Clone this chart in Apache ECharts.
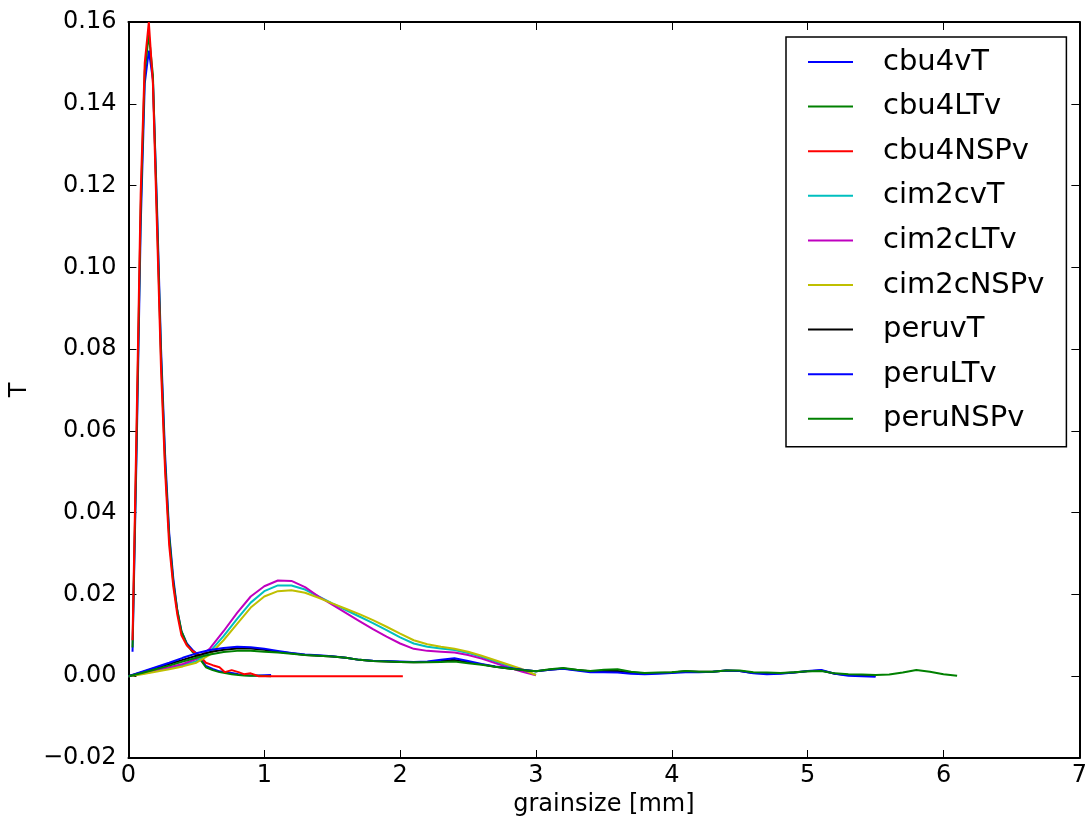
<!DOCTYPE html>
<html>
<head>
<meta charset="utf-8">
<title>grainsize T</title>
<script src="https://cdn.jsdelivr.net/npm/echarts@6/dist/echarts.min.js"></script>
<style>
  html, body { margin: 0; padding: 0; background: #fff; }
  #chart { width: 1090px; height: 823px; }
</style>
</head>
<body>
<div id="chart"></div>
<script>
// cbu4 samples (x in mm)
var cbu4X = [0.03, 0.06, 0.09, 0.12, 0.15, 0.18, 0.21, 0.24, 0.27, 0.30, 0.33, 0.36, 0.39, 0.43, 0.47, 0.52, 0.57, 0.62, 0.67, 0.71, 0.76, 0.81, 0.85, 0.90, 0.96, 1.05, 1.5, 2.02]
var cbu4vT = [0.006, 0.055, 0.110, 0.145, 0.153, 0.146, 0.115, 0.080, 0.054, 0.035, 0.024, 0.016, 0.011, 0.008, 0.0065, 0.005, 0.0025, 0.0018, 0.0012, 0.001, 0.0008, 0.0005, 0.0003, 0.0002, 0.0002, 0.0003]
var cbu4LTv = [0.007, 0.058, 0.114, 0.148, 0.157, 0.147, 0.113, 0.078, 0.052, 0.034, 0.023, 0.016, 0.011, 0.0078, 0.006, 0.0045, 0.0022, 0.0015, 0.001, 0.0008, 0.0005, 0.0003, 0.0002, 0.0001, 0.0001, 0.0]
var cbu4NSPv = [0.0088, 0.062, 0.118, 0.150, 0.160, 0.145, 0.110, 0.075, 0.050, 0.032, 0.022, 0.015, 0.010, 0.0075, 0.0062, 0.0052, 0.0033, 0.0027, 0.0022, 0.001, 0.0015, 0.001, 0.0005, 0.0007, 0.0, 0.0, 0.0, 0.0]

// cim2c samples
var cim2cX = [0, 0.1, 0.2, 0.3, 0.4, 0.5, 0.6, 0.7, 0.8, 0.9, 1.0, 1.1, 1.2, 1.3, 1.4, 1.5, 1.6, 1.7, 1.8, 1.9, 2.0, 2.1, 2.2, 2.3, 2.4, 2.5, 2.6, 2.7, 2.8, 2.9, 3.0]
var cim2cvT = [0, 0.0006, 0.0013, 0.002, 0.0027, 0.0037, 0.006, 0.0098, 0.014, 0.018, 0.0208, 0.0222, 0.0222, 0.0212, 0.0195, 0.0178, 0.0162, 0.0146, 0.013, 0.0113, 0.0095, 0.008, 0.0072, 0.0068, 0.0064, 0.0057, 0.0047, 0.0036, 0.0025, 0.0014, 0.0004]
var cim2cLTv = [0, 0.0007, 0.0015, 0.0022, 0.003, 0.0042, 0.0068, 0.011, 0.0155, 0.0195, 0.022, 0.0234, 0.0233, 0.0218, 0.0195, 0.0175, 0.0155, 0.0135, 0.0115, 0.0097, 0.008, 0.0067, 0.0062, 0.006, 0.0058, 0.0052, 0.0043, 0.0032, 0.0021, 0.0011, 0.0002]
var cim2cNSPv = [0, 0.0005, 0.0011, 0.0017, 0.0024, 0.0033, 0.0053, 0.0088, 0.0128, 0.0168, 0.0195, 0.0208, 0.021, 0.0204, 0.0192, 0.0178, 0.0165, 0.0152, 0.0137, 0.0121, 0.0104, 0.0088, 0.0078, 0.0072, 0.0067, 0.006, 0.005, 0.0039, 0.0028, 0.0017, 0.0003]

// peru samples
var peruX = [0, 0.1, 0.2, 0.3, 0.4, 0.5, 0.6, 0.7, 0.8, 0.9, 1.0, 1.1, 1.2, 1.3, 1.4, 1.5, 1.6, 1.7, 1.8, 1.9, 2.0, 2.1, 2.2, 2.3, 2.4, 2.5, 2.6, 2.7, 2.8, 2.9, 3.0, 3.1, 3.2, 3.3, 3.4, 3.5, 3.6, 3.7, 3.8, 3.9, 4.0, 4.1, 4.2, 4.3, 4.4, 4.5, 4.6, 4.7, 4.8, 4.9, 5.0, 5.1, 5.2, 5.3, 5.4, 5.5, 5.6, 5.7, 5.8, 5.9, 6.0, 6.1]
var peruvT = [0, 0.001, 0.002, 0.003, 0.004, 0.005, 0.0059, 0.0065, 0.0068, 0.0068, 0.0065, 0.006, 0.0056, 0.0052, 0.005, 0.0048, 0.0045, 0.004, 0.0037, 0.0036, 0.0035, 0.0034, 0.0035, 0.0037, 0.004, 0.0034, 0.0029, 0.0023, 0.0019, 0.0015, 0.0012, 0.0016, 0.0019, 0.0015, 0.0012, 0.0013, 0.0013, 0.0009, 0.0007, 0.0008, 0.0009, 0.0012, 0.0011, 0.0011, 0.0014, 0.0013, 0.0008, 0.0007, 0.0007, 0.0009, 0.0012, 0.0014, 0.0006, 0.0003, 0.0002, 0.0001]
var peruLTv = [0, 0.0011, 0.0022, 0.0033, 0.0045, 0.0056, 0.0064, 0.0069, 0.0072, 0.0071, 0.0067, 0.0062, 0.0057, 0.0053, 0.0051, 0.0049, 0.0045, 0.004, 0.0038, 0.0037, 0.0036, 0.0035, 0.0036, 0.004, 0.0044, 0.0037, 0.003, 0.0024, 0.002, 0.0016, 0.0012, 0.0016, 0.0018, 0.0014, 0.001, 0.001, 0.0009, 0.0006, 0.0005, 0.0006, 0.0008, 0.001, 0.001, 0.0011, 0.0014, 0.0013, 0.0007, 0.0005, 0.0006, 0.0009, 0.0013, 0.0015, 0.0006, 0.0001, 0.0, -0.0001]
var peruNSPv = [0, 0.0008, 0.0017, 0.0026, 0.0036, 0.0045, 0.0053, 0.0059, 0.0062, 0.0062, 0.006, 0.0058, 0.0055, 0.0052, 0.005, 0.0048, 0.0045, 0.004, 0.0037, 0.0036, 0.0035, 0.0034, 0.0034, 0.0035, 0.0036, 0.0032, 0.0028, 0.0023, 0.0019, 0.0015, 0.0012, 0.0017, 0.002, 0.0016, 0.0013, 0.0016, 0.0017, 0.0011, 0.0008, 0.0009, 0.001, 0.0013, 0.0011, 0.0011, 0.0014, 0.0014, 0.001, 0.0009, 0.0008, 0.001, 0.0012, 0.0013, 0.0007, 0.0005, 0.0004, 0.0003, 0.0004, 0.0009, 0.0015, 0.0011, 0.0005, 0.0001]

var names = ['cbu4vT', 'cbu4LTv', 'cbu4NSPv', 'cim2cvT', 'cim2cLTv', 'cim2cNSPv', 'peruvT', 'peruLTv', 'peruNSPv']
var colors = ['#0000ff', '#008000', '#ff0000', '#00bfbf', '#bf00bf', '#bfbf00', '#000000', '#0000ff', '#008000']

function pairs(xs, ys) {
  var out = []
  for (var i = 0; i < ys.length; i++) {
    out.push([xs[i], ys[i]])
  }
  return out
}

var seriesData = [
  pairs(cbu4X, cbu4vT), pairs(cbu4X, cbu4LTv), pairs(cbu4X, cbu4NSPv),
  pairs(cim2cX, cim2cvT), pairs(cim2cX, cim2cLTv), pairs(cim2cX, cim2cNSPv),
  pairs(peruX, peruvT), pairs(peruX, peruLTv), pairs(peruX, peruNSPv)
]

var font = 'DejaVu Sans'
var axisLine = { show: true, onZero: false, lineStyle: { color: '#000', width: 2 } }
var tick = { show: true, inside: true, length: 8, lineStyle: { color: '#000', width: 1 } }

var chart = echarts.init(document.getElementById('chart'), null, { renderer: 'canvas' })

var option = {
  animation: false,
  color: colors,
  grid: { left: 128, right: 10, top: 22, bottom: 65, containLabel: false },
  legend: {
    orient: 'vertical',
    left: 786,
    top: 37,
    padding: [10, 22, 13, 22],
    itemGap: 14.6,
    itemWidth: 45,
    itemHeight: 2,
    icon: 'rect',
    backgroundColor: '#fff',
    borderColor: '#000',
    borderWidth: 1.5,
    borderRadius: 0,
    data: names,
    textStyle: {
      fontFamily: font,
      fontSize: 29,
      color: '#000',
      lineHeight: 30,
      padding: [0, 0, 0, 25]
    }
  },
  xAxis: [
    {
      type: 'value',
      min: 0,
      max: 7,
      interval: 1,
      name: 'grainsize [mm]',
      nameLocation: 'middle',
      nameGap: 33,
      nameTextStyle: { fontFamily: font, fontSize: 24, color: '#000' },
      axisLine: axisLine,
      axisTick: tick,
      splitLine: { show: false },
      axisLabel: { fontFamily: font, fontSize: 24, color: '#000', margin: 6 }
    },
    {
      type: 'value',
      position: 'top',
      min: 0,
      max: 7,
      interval: 1,
      axisLine: axisLine,
      axisTick: tick,
      splitLine: { show: false },
      axisLabel: { show: false }
    }
  ],
  yAxis: [
    {
      type: 'value',
      min: -0.02,
      max: 0.16,
      interval: 0.02,
      name: 'T',
      nameLocation: 'middle',
      nameGap: 86,
      nameTextStyle: { fontFamily: font, fontSize: 24, color: '#000' },
      axisLine: axisLine,
      axisTick: tick,
      splitLine: { show: false },
      axisLabel: {
        fontFamily: font,
        fontSize: 24,
        color: '#000',
        margin: 12,
        formatter: function (v) {
          return v.toFixed(2).replace('-', '\u2212')
        }
      }
    },
    {
      type: 'value',
      position: 'right',
      min: -0.02,
      max: 0.16,
      interval: 0.02,
      axisLine: axisLine,
      axisTick: tick,
      splitLine: { show: false },
      axisLabel: { show: false }
    }
  ],
  series: names.map(function (name, i) {
    return {
      name: name,
      type: 'line',
      xAxisIndex: 0,
      yAxisIndex: 0,
      data: seriesData[i],
      symbol: 'none',
      showSymbol: false,
      smooth: false,
      lineStyle: { color: colors[i], width: 2 },
      itemStyle: { color: colors[i] }
    }
  })
}

chart.setOption(option)
</script>
</body>
</html>
